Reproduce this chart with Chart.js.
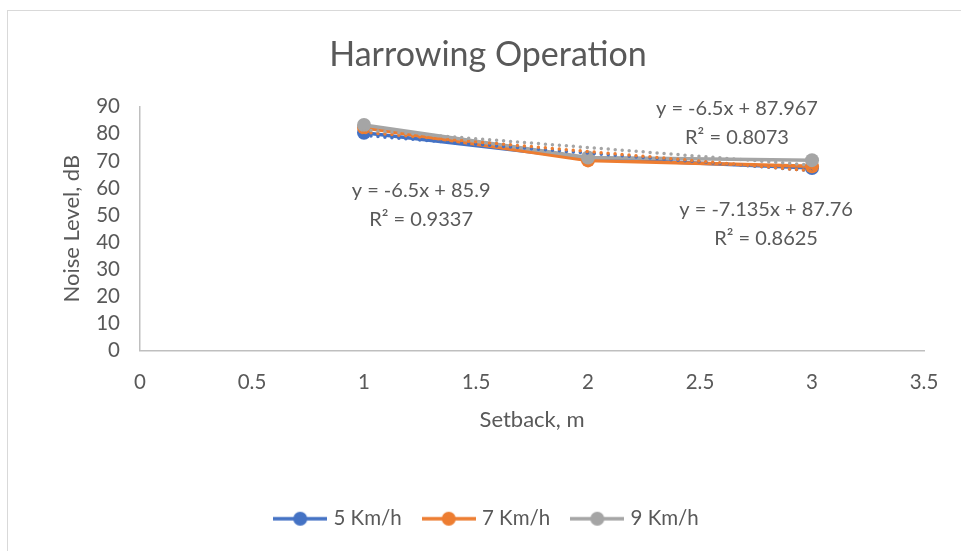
<!DOCTYPE html>
<html>
<head>
<meta charset="utf-8">
<script src="https://cdn.jsdelivr.net/npm/chart.js@4.4.1/dist/chart.umd.min.js"></script>
<style>
  html, body { margin: 0; padding: 0; background: #fff; overflow: hidden; }
  #frame { position: absolute; left: 7px; top: 10px; width: 1000px; height: 600px; border: 1px solid #d9d9d9; }
  #wrap { position: absolute; left: 0; top: 0; width: 961px; height: 551px; }
</style>
</head>
<body>
<div id="frame"></div>
<div id="wrap"><canvas id="chart" width="961" height="551"></canvas></div>
<script>
// data
var setback = [1, 2, 3];
var noise5 = [80.4, 70.9, 67.4];
var noise7 = [82.3, 70.2, 68.0];
var noise9 = [83.3, 71.3, 70.3];
var seriesNames = ['5 Km/h', '7 Km/h', '9 Km/h'];
var seriesColors = ['#4472C4', '#ED7D31', '#A5A5A5'];

// trendline equations as printed on the chart
var trendSlope = [-6.5, -7.135, -6.5];
var trendIntercept = [85.9, 87.76, 87.967];
var trendR2 = ['0.9337', '0.8625', '0.8073'];

var xTicks = [0, 0.5, 1, 1.5, 2, 2.5, 3, 3.5];
var yTicks = [0, 10, 20, 30, 40, 50, 60, 70, 80, 90];

var textColor = '#595959';
var fontFamily = 'Lato, "Open Sans", sans-serif';

// where the equation labels sit (data units, centre of first line)
var labelPos = [
  {x: 1.255, y: 59.2},
  {x: 2.795, y: 52.0},
  {x: 2.665, y: 89.4}
];

var series = [noise5, noise7, noise9];

var toPoints = function(ys){
  return setback.map(function(x, i){ return {x: x, y: ys[i]}; });
};

var trendPoints = function(k){
  return [setback[0], setback[setback.length - 1]].map(function(x){
    return {x: x, y: trendSlope[k] * x + trendIntercept[k]};
  });
};

var datasets = [];
series.forEach(function(ys, k){
  datasets.push({
    label: seriesNames[k],
    data: toPoints(ys),
    showLine: true,
    borderColor: seriesColors[k],
    backgroundColor: seriesColors[k],
    borderWidth: 3.5,
    pointRadius: 7,
    pointBorderWidth: 0,
    order: 10 - k
  });
});
series.forEach(function(ys, k){
  datasets.push({
    label: 'trend' + k,
    data: trendPoints(k),
    showLine: true,
    borderColor: seriesColors[k],
    borderWidth: 3.5,
    borderDash: [0, 7],
    borderCapStyle: 'round',
    pointRadius: 0,
    order: 3 - k
  });
});

// legend swatch: line with a dot in the middle
var makeSwatch = function(color){
  var c = document.createElement('canvas');
  c.width = 54; c.height = 16;
  var g = c.getContext('2d');
  g.strokeStyle = color;
  g.lineWidth = 3.5;
  g.beginPath(); g.moveTo(0, 8); g.lineTo(54, 8); g.stroke();
  g.fillStyle = color;
  g.beginPath(); g.arc(27, 8, 7, 0, Math.PI * 2); g.fill();
  return c;
};
var swatches = seriesColors.map(makeSwatch);

var equationLabels = {
  id: 'equationLabels',
  afterDatasetsDraw: function(chart){
    var ctx = chart.ctx;
    var xs = chart.scales.x, ys = chart.scales.y;
    ctx.save();
    ctx.fillStyle = textColor;
    ctx.font = '20px ' + fontFamily;
    ctx.textAlign = 'center';
    ctx.textBaseline = 'middle';
    labelPos.forEach(function(p, k){
      var px = xs.getPixelForValue(p.x);
      var py = ys.getPixelForValue(p.y);
      ctx.fillText('y = ' + trendSlope[k] + 'x + ' + trendIntercept[k], px, py);
      ctx.fillText('R\u00B2 = ' + trendR2[k], px, py + 29);
    });
    ctx.restore();
  }
};

var chart = new Chart(document.getElementById('chart'), {
  type: 'scatter',
  data: {datasets: datasets},
  plugins: [equationLabels],
  options: {
    responsive: false,
    animation: false,
    layout: {padding: {left: 52, right: 37, top: 0, bottom: 12}},
    plugins: {
      tooltip: {enabled: false},
      title: {
        display: true,
        text: 'Harrowing Operation',
        color: textColor,
        font: {family: fontFamily, size: 34, weight: 'normal'},
        padding: {top: 35, bottom: 31}
      },
      legend: {
        position: 'bottom',
        labels: {
          color: textColor,
          font: {family: fontFamily, size: 20.5},
          usePointStyle: true,
          pointStyleWidth: 46,
          padding: 24,
          generateLabels: function(ch){
            return seriesNames.map(function(name, k){
              return {
                text: name,
                fontColor: textColor,
                pointStyle: swatches[k],
                datasetIndex: k,
                hidden: false,
                lineWidth: 0,
                strokeStyle: 'transparent',
                fillStyle: 'transparent'
              };
            });
          }
        }
      }
    },
    scales: {
      x: {
        type: 'linear',
        min: 0,
        max: 3.5,
        afterBuildTicks: function(scale){
          scale.ticks = xTicks.map(function(v){ return {value: v}; });
        },
        afterFit: function(scale){ scale.height = 134; },
        grid: {display: false, drawTicks: false},
        border: {display: true, color: '#bfbfbf', width: 1.5},
        ticks: {
          color: textColor,
          font: {family: fontFamily, size: 20.5},
          padding: 20,
          autoSkip: false,
          maxRotation: 0,
          callback: function(v){ return String(v); }
        },
        title: {
          display: true,
          text: 'Setback, m',
          color: textColor,
          font: {family: fontFamily, size: 22},
          padding: {top: 0, bottom: 51}
        }
      },
      y: {
        min: 0,
        max: 90,
        afterBuildTicks: function(scale){
          scale.ticks = yTicks.map(function(v){ return {value: v}; });
        },
        ticks: {color: textColor, font: {family: fontFamily, size: 20.5}, padding: 20, autoSkip: false},
        afterFit: function(scale){ scale.width = 88; },
        grid: {display: false, drawTicks: false},
        border: {display: true, color: '#bfbfbf', width: 1.5},
        title: {
          display: true,
          text: 'Noise Level, dB',
          color: textColor,
          font: {family: fontFamily, size: 22},
          padding: {top: 7, bottom: 0}
        }
      }
    }
  }
});
</script>
</body>
</html>
